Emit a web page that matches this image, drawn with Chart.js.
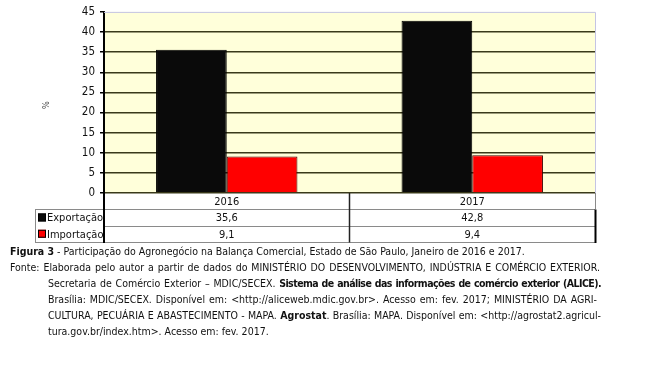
<!DOCTYPE html>
<html>
<head>
<meta charset="utf-8">
<script src="https://cdn.jsdelivr.net/npm/chart.js@4.4.1/dist/chart.umd.min.js"></script>
<style>
  html, body { margin: 0; padding: 0; background: #ffffff; }
  #wrap { position: relative; width: 645px; height: 365px; overflow: hidden; }
  #c { position: absolute; left: 0; top: 0; }
  .cap { position: absolute; font-family: "DejaVu Sans Condensed", "Liberation Sans Narrow", sans-serif; font-size: 10.5px; color: #111; white-space: nowrap; }
  .j { text-align: justify; text-align-last: justify; white-space: normal; }
  .tight { letter-spacing: -0.55px; }
</style>
</head>
<body>
<div id="wrap">
  <canvas id="c" width="645" height="365"></canvas>
  <div class="cap" style="left:10px; top:245px;"><b>Figura 3</b> - Participação do Agronegócio na Balança Comercial, Estado de São Paulo, Janeiro de 2016 e 2017.</div>
  <div class="cap j" style="left:10px; top:261px; width:590px;">Fonte: Elaborada pelo autor a partir de dados do MINISTÉRIO DO DESENVOLVIMENTO, INDÚSTRIA E COMÉRCIO EXTERIOR.</div>
  <div class="cap j" style="left:48px; top:277px; width:553px;">Secretaria de Comércio Exterior – MDIC/SECEX. <b class="tight">Sistema de análise das informações de comércio exterior (ALICE).</b></div>
  <div class="cap j" style="left:48px; top:293px; width:549px;">Brasília: MDIC/SECEX. Disponível em: &lt;http://aliceweb.mdic.gov.br&gt;. Acesso em: fev. 2017; MINISTÉRIO DA AGRI-</div>
  <div class="cap j" style="left:48px; top:309px; width:553px;">CULTURA, PECUÁRIA E ABASTECIMENTO - MAPA. <b>Agrostat</b>. Brasília: MAPA. Disponível em: &lt;http://agrostat2.agricul-</div>
  <div class="cap" style="left:48px; top:325px;">tura.gov.br/index.htm&gt;. Acesso em: fev. 2017.</div>
</div>
<script>
const categories = ["2016", "2017"];
const exportacao = [35.6, 42.8];
const importacao = [9.1, 9.4];
const seriesNames = ["Exportação", "Importação"];
const yTicks = [0, 5, 10, 15, 20, 25, 30, 35, 40, 45];

const FONT = '"DejaVu Sans Condensed", "Liberation Sans Narrow", sans-serif';
const fmt = v => v.toFixed(1).replace('.', ',');

const tablePlugin = {
  id: 'dataTable',
  afterDraw(chart) {
    const ctx = chart.ctx;
    const ca = chart.chartArea;
    const x = chart.scales.x;
    const rowH = 16.3;
    const top = ca.bottom;
    const leftCol = 35;
    const seriesData = [exportacao, importacao];
    const colors = ['#0a0a0a', '#ff0000'];
    const mid = (x.getPixelForValue(0) + x.getPixelForValue(1)) / 2;
    ctx.save();
    // plot area top/right border
    ctx.strokeStyle = '#c4c4e4';
    ctx.lineWidth = 1;
    ctx.beginPath();
    ctx.moveTo(ca.left, ca.top + 0.5); ctx.lineTo(ca.right + 0.5, ca.top + 0.5);
    ctx.lineTo(ca.right + 0.5, ca.bottom);
    ctx.stroke();

    // table grid lines (gray)
    ctx.strokeStyle = '#8a8a8a';
    ctx.lineWidth = 1;
    ctx.beginPath();
    ctx.moveTo(ca.right + 0.5, top); ctx.lineTo(ca.right + 0.5, top + rowH);
    for (let r = 1; r <= 3; r++) {
      const yy = Math.round(top + r * rowH) + 0.5;
      ctx.moveTo(r === 1 ? leftCol : ca.left, yy);
      ctx.lineTo(ca.right, yy);
    }
    const y1 = Math.round(top + rowH) + 0.5;
    const y3 = Math.round(top + 3 * rowH) + 0.5;
    ctx.moveTo(leftCol + 0.5, y1); ctx.lineTo(leftCol + 0.5, y3);
    ctx.moveTo(ca.left, y1); ctx.lineTo(ca.right, y1);
    ctx.moveTo(leftCol, y3); ctx.lineTo(ca.left, y3);
    ctx.stroke();

    // category divider (dark)
    ctx.strokeStyle = '#222';
    ctx.lineWidth = 1.5;
    ctx.beginPath();
    ctx.moveTo(mid, top); ctx.lineTo(mid, y3);
    ctx.stroke();

    // thick black borders
    ctx.strokeStyle = '#000';
    ctx.lineWidth = 2;
    ctx.beginPath();
    ctx.moveTo(ca.left, top); ctx.lineTo(ca.left, y3 + 0.5);
    ctx.moveTo(ca.right + 0.5, y1); ctx.lineTo(ca.right + 0.5, y3 + 0.5);
    ctx.stroke();

    // texts
    ctx.fillStyle = '#111';
    ctx.font = '11px ' + FONT;
    ctx.textAlign = 'center';
    ctx.textBaseline = 'middle';
    categories.forEach((c, i) => {
      const cx = x.getPixelForValue(i);
      ctx.fillText(c, cx, top + rowH / 2 + 1);
      seriesData.forEach((arr, s) => {
        ctx.fillText(fmt(arr[i]), cx, top + rowH * (s + 1.5) + 1);
      });
    });
    ctx.textAlign = 'left';
    seriesNames.forEach((n, s) => {
      const cy = top + rowH * (s + 1.5);
      ctx.fillStyle = colors[s];
      ctx.fillRect(leftCol + 3, cy - 4, 8, 8);
      ctx.strokeStyle = '#000';
      ctx.lineWidth = 1;
      ctx.strokeRect(leftCol + 3.5, cy - 3.5, 7, 7);
      ctx.fillStyle = '#111';
      ctx.fillText(n, leftCol + 12, cy + 1);
    });

    // y-axis title "%"
    ctx.translate(44, 105);
    ctx.rotate(Math.PI / 2);
    ctx.font = '9px ' + FONT;
    ctx.textAlign = 'center';
    ctx.fillStyle = '#333';
    ctx.fillText('%', 0, 0);
    ctx.restore();
  }
};

const bgPlugin = {
  id: 'plotBg',
  beforeDraw(chart) {
    const ca = chart.chartArea;
    const ctx = chart.ctx;
    ctx.save();
    ctx.fillStyle = '#ffffda';
    ctx.fillRect(ca.left, ca.top, ca.right - ca.left, ca.bottom - ca.top);
    ctx.restore();
  }
};

new Chart(document.getElementById('c'), {
  type: 'bar',
  data: {
    labels: categories,
    datasets: [
      { label: seriesNames[0], data: exportacao, backgroundColor: '#0a0a0a', borderColor: '#000', borderWidth: 1 },
      { label: seriesNames[1], data: importacao, backgroundColor: '#ff0000', borderColor: '#400000', borderWidth: 1 }
    ]
  },
  options: {
    responsive: false,
    animation: false,
    devicePixelRatio: 1,
    layout: { padding: { top: 9, right: 50, bottom: 172, left: 0 } },
    datasets: { bar: { categoryPercentage: 0.576, barPercentage: 1.0 } },
    plugins: { legend: { display: false }, tooltip: { enabled: false } },
    scales: {
      x: { display: false, grid: { display: false } },
      y: {
        min: 0, max: 45,
        afterFit(s) { s.width = 104; },
        afterBuildTicks(s) { s.ticks = yTicks.map(v => ({ value: v })); },
        ticks: { color: '#111', font: { family: FONT, size: 11.5 }, padding: 5 },
        grid: {
          color: ctx => (ctx.tick && ctx.tick.value === 45) ? 'rgba(0,0,0,0)' : '#3a3a1a',
          lineWidth: 1.5,
          tickColor: '#000',
          tickLength: 4,
          drawTicks: true
        },
        border: { display: true, color: '#000', width: 2 }
      }
    }
  },
  plugins: [bgPlugin, tablePlugin]
});
</script>
</body>
</html>
